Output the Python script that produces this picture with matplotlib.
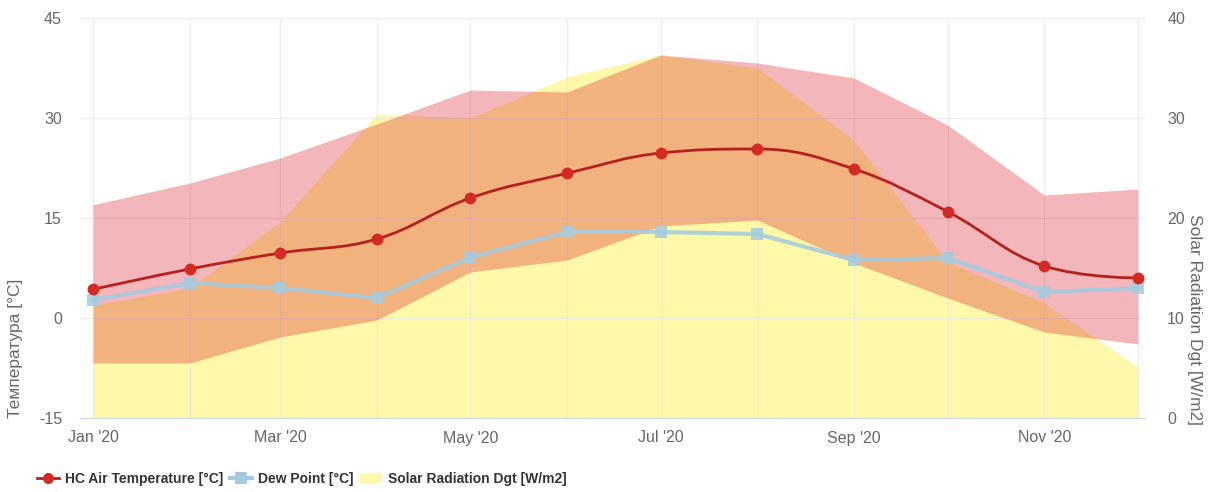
import matplotlib
matplotlib.use("Agg")
import matplotlib.pyplot as plt
import matplotlib.dates as mdates
from matplotlib.path import Path
from matplotlib.patches import PathPatch, Patch
from matplotlib.lines import Line2D
import numpy as np
import pandas as pd

plt.rcParams['font.family'] = ['Liberation Sans', 'DejaVu Sans']
plt.rcParams['axes.unicode_minus'] = False

# monthly data, 2020
months = pd.date_range('2020-01-01', periods=12, freq='MS')
month_labels = ["Jan '20", "", "Mar '20", "", "May '20", "", "Jul '20", "",
                "Sep '20", "", "Nov '20", ""]

air_temp = [4.3, 7.35, 9.75, 11.85, 18.0, 21.7, 24.75, 25.35, 22.35, 15.95, 7.8, 6.0]
temp_max = [17.0, 20.25, 24.0, 29.1, 34.2, 33.9, 39.45, 38.25, 36.0, 28.95, 18.45, 19.35]
temp_min = [-6.75, -6.75, -2.85, -0.3, 6.9, 8.7, 13.8, 14.7, 8.25, 3.0, -2.1, -3.9]
dew_point = [2.7, 5.25, 4.5, 3.0, 9.1, 12.9, 12.9, 12.6, 8.7, 9.0, 3.9, 4.5]
solar = [11.3, 13.0, 19.6, 30.4, 30.0, 34.1, 36.3, 35.0, 27.8, 15.6, 11.5, 5.1]

x = mdates.date2num(months)


def spline_path(xs, ys, smoothing=1.5):
    # smooth curve through the points (bezier control points, highcharts style)
    n = len(xs)
    left = []
    right = []
    denom = smoothing + 1
    for i in range(n):
        if i == 0 or i == n - 1:
            left.append((xs[i], ys[i]))
            right.append((xs[i], ys[i]))
            continue
        px, py = xs[i - 1], ys[i - 1]
        nx, ny = xs[i + 1], ys[i + 1]
        lcx = (smoothing * xs[i] + px) / denom
        lcy = (smoothing * ys[i] + py) / denom
        rcx = (smoothing * xs[i] + nx) / denom
        rcy = (smoothing * ys[i] + ny) / denom
        corr = (rcy - lcy) * (rcx - xs[i]) / (rcx - lcx) + ys[i] - rcy
        lcy += corr
        rcy += corr
        if lcy > py and lcy > ys[i]:
            lcy = max(py, ys[i]); rcy = 2 * ys[i] - lcy
        elif lcy < py and lcy < ys[i]:
            lcy = min(py, ys[i]); rcy = 2 * ys[i] - lcy
        if rcy > ny and rcy > ys[i]:
            rcy = max(ny, ys[i]); lcy = 2 * ys[i] - rcy
        elif rcy < ny and rcy < ys[i]:
            rcy = min(ny, ys[i]); lcy = 2 * ys[i] - rcy
        left.append((lcx, lcy))
        right.append((rcx, rcy))
    verts = [(xs[0], ys[0])]
    codes = [Path.MOVETO]
    for i in range(n - 1):
        verts += [right[i], left[i + 1], (xs[i + 1], ys[i + 1])]
        codes += [Path.CURVE4] * 3
    return Path(verts, codes)


fig = plt.figure(figsize=(12.16, 4.92), dpi=100)
ax = fig.add_axes([80 / 1216, 1 - 418 / 492, 1065 / 1216, 400 / 492])
ax2 = ax.twinx()
ax.set_zorder(ax2.get_zorder() + 1)
ax.patch.set_visible(False)

# solar radiation (right axis)
ax2.fill_between(x, 0, solar, color='#fdf9a8', lw=0)
ax2.set_ylim(0, 40)
ax2.set_yticks([0, 10, 20, 30, 40])

# temperature range
ax.fill_between(x, temp_min, temp_max, color='#da0f1c', alpha=0.3, lw=0, zorder=1)

# dew point
ax.plot(x, dew_point, color='#a3cbe0', lw=3, alpha=0.85, marker='s', ms=8,
        markeredgewidth=0, zorder=3)

# air temperature
ax.add_patch(PathPatch(spline_path(list(x), air_temp), fill=False,
                       edgecolor='#b3221c', lw=2, zorder=4))
ax.plot(x, air_temp, 'o', color='#d42a22', ms=7.5, zorder=5)

ax.set_ylim(-15, 45)
ax.set_yticks([-15, 0, 15, 30, 45])
ax.set_xlim(x[0] - 4.2, x[-1] + 2.3)
ax.set_xticks(x)
ax.set_xticklabels(month_labels)

ax.grid(True, color='#e6e6e6', lw=0.9, alpha=0.7)
ax.set_axisbelow(True)

for a in (ax, ax2):
    for s in ('top', 'left', 'right'):
        a.spines[s].set_visible(False)
    a.spines['bottom'].set_color('#ccd6eb')
ax2.spines['bottom'].set_visible(False)

ax.tick_params(axis='y', length=0, pad=13, colors='#666666', labelsize=11.5)
ax.tick_params(axis='x', length=0, pad=9, colors='#666666', labelsize=11.5)
ax2.tick_params(axis='y', length=0, pad=16, colors='#666666', labelsize=11.5)

ax.set_ylabel('Температура [°C]', color='#666666', fontsize=12.5, loc='bottom')
ax.yaxis.set_label_coords(-0.0535, 0.0)
ax2.set_ylabel('Solar Radiation Dgt [W/m2]', color='#666666', fontsize=12.5,
               rotation=270, va='center')
ax2.yaxis.set_label_coords(1.0465, 0.245)

handles = [
    Line2D([], [], color='#b3221c', lw=2, marker='o', markerfacecolor='#d42a22',
           markeredgecolor='#d42a22', ms=7),
    Line2D([], [], color='#a3cbe0', lw=3, marker='s', ms=8, markeredgewidth=0),
    Patch(facecolor='#fdf9a8', edgecolor='none'),
]
labels = ['HC Air Temperature [°C]', 'Dew Point [°C]', 'Solar Radiation Dgt [W/m2]']
fig.legend(handles, labels, loc='center left', bbox_to_anchor=(0.02, 0.026),
           ncol=3, frameon=False, handlelength=1.6, handletextpad=0.4,
           columnspacing=0.5, prop={'weight': 'bold', 'size': 10},
           labelcolor='#333333')

fig.savefig('out.png', dpi=100)
